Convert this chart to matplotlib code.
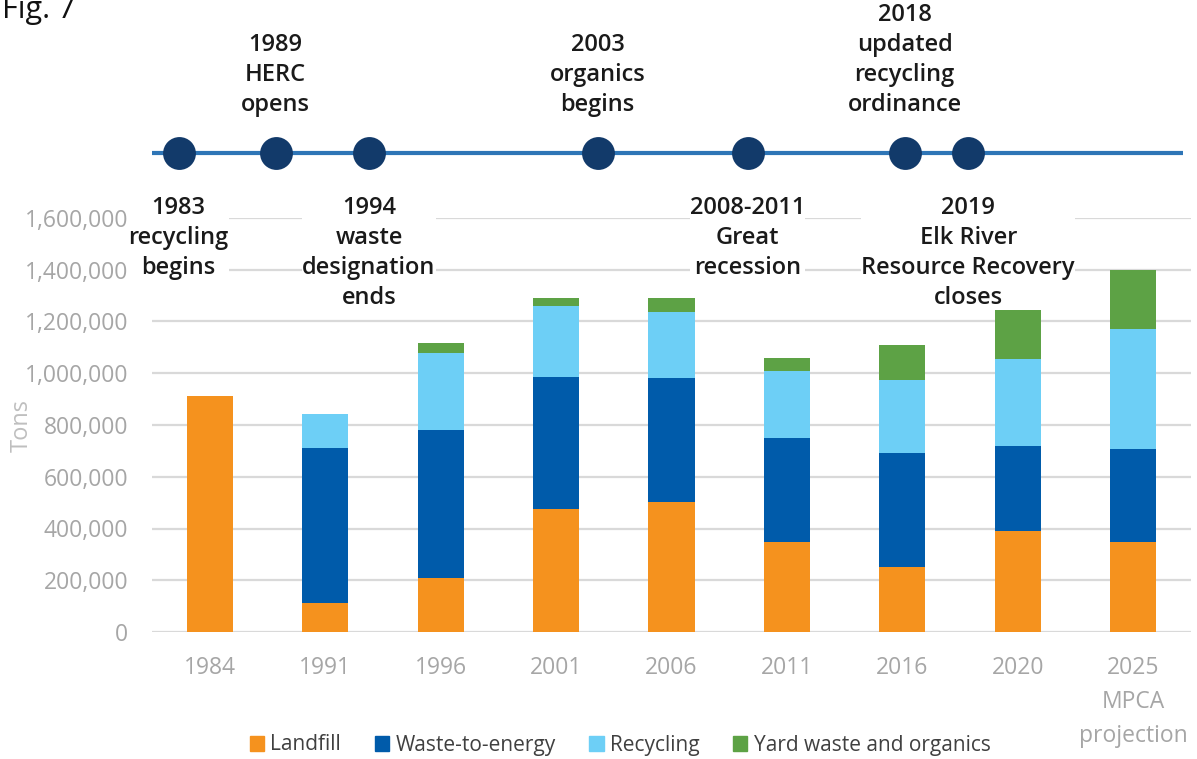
import matplotlib
matplotlib.use('Agg')
import matplotlib.pyplot as plt
from matplotlib.patches import Patch
import numpy as np

plt.rcParams['font.family'] = ['Open Sans', 'DejaVu Sans']

# tons per year
years = ['1984', '1991', '1996', '2001', '2006', '2011', '2016', '2020', '2025\nMPCA\nprojection']
landfill = [912000, 113000, 209000, 476000, 504000, 349000, 253000, 392000, 347000]
wte = [0, 599000, 571000, 508000, 477000, 401000, 438000, 327000, 361000]
recycling = [0, 130000, 298000, 277000, 255000, 259000, 281000, 337000, 464000]
yard = [0, 0, 37000, 29000, 54000, 49000, 138000, 193000, 227000]

series_names = ['Landfill', 'Waste-to-energy', 'Recycling', 'Yard waste and organics']
series_colors = ['#F5921E', '#005BAA', '#6DCFF6', '#5DA245']

# timeline events, placed in bar-category units
events_above = ['1989\nHERC\nopens', '2003\norganics\nbegins',
                '2018\nupdated\nrecycling\nordinance']
events_above_pos = [0.57, 3.36, 6.02]
events_below = ['1983\nrecycling\nbegins', '1994\nwaste\ndesignation\nends',
                '2008-2011\nGreat\nrecession',
                '2019\nElk River\nResource Recovery\ncloses']
events_below_pos = [-0.27, 1.38, 4.66, 6.57]
timeline_span = [-0.65, 8.43]

W, H = 1197, 759
fig = plt.figure(figsize=(W / 100, H / 100), dpi=100)

ax_l, ax_r = 152 / W, 1191 / W
ax_b, ax_t = 1 - 632 / H, 1 - 218 / H
ax = fig.add_axes([ax_l, ax_b, ax_r - ax_l, ax_t - ax_b])

x = np.arange(len(years))
bottom = np.zeros(len(years))
for vals, name, col in zip([landfill, wte, recycling, yard], series_names, series_colors):
    ax.bar(x, vals, width=0.40, bottom=bottom, color=col, label=name, zorder=2)
    bottom += np.array(vals)

ax.set_xlim(-0.5, len(years) - 0.5)
ax.set_ylim(0, 1600000)
ax.set_yticks(np.arange(0, 1600001, 200000))
ax.yaxis.set_major_formatter(matplotlib.ticker.FuncFormatter(lambda v, p: f'{int(v):,}'))
ax.set_xticks(x)
ax.set_xticklabels(years, linespacing=1.58)
ax.tick_params(axis='both', length=0, labelsize=16.5, labelcolor='#a6a6a6')
ax.tick_params(axis='y', pad=17)
ax.tick_params(axis='x', pad=17)
ax.grid(axis='y', color='#d9d9d9', linewidth=1.6, zorder=0)
ax.set_axisbelow(True)
for s in ax.spines.values():
    s.set_visible(False)

fig.text(22 / W, 1 - 425 / H, 'Tons', rotation=90, ha='center', va='center',
         fontsize=17, color='#bfbfbf')

# timeline overlay, x shares the bar categories, y in pixels from top
tl = fig.add_axes([ax_l, 0, ax_r - ax_l, 1], zorder=5)
tl.set_xlim(ax.get_xlim())
tl.set_ylim(H, 0)
tl.axis('off')
tl.patch.set_alpha(0)
tl.plot(timeline_span, [153, 153], color='#2E75B6', linewidth=3, zorder=1,
        solid_capstyle='butt')
tl.scatter(events_above_pos + events_below_pos, [153] * 7, s=560, color='#123A6A',
           linewidths=0, zorder=2)

for lab, pos in zip(events_above, events_above_pos):
    tl.text(pos, 111, lab, ha='center', va='baseline', fontsize=17, color='#1a1a1a',
            fontweight='semibold', linespacing=1.34)
for lab, pos in zip(events_below, events_below_pos):
    tl.text(pos, 196, lab, ha='center', va='top', fontsize=17, color='#1a1a1a',
            fontweight='semibold', linespacing=1.34,
            bbox=dict(facecolor='white', edgecolor='none', pad=0))

fig.text(0.002, 1 - 18 / H, 'Fig. 7', fontsize=22, va='baseline', ha='left', color='#111111')

handles = [Patch(color=c) for c in series_colors]
fig.legend(handles, series_names, loc='center', bbox_to_anchor=(620 / W, 1 - 745 / H),
           ncol=4, frameon=False, fontsize=15, handlelength=0.7, handleheight=0.7,
           handletextpad=0.3, columnspacing=1.6, labelcolor='#404040')

fig.savefig('out.png', dpi=100)
